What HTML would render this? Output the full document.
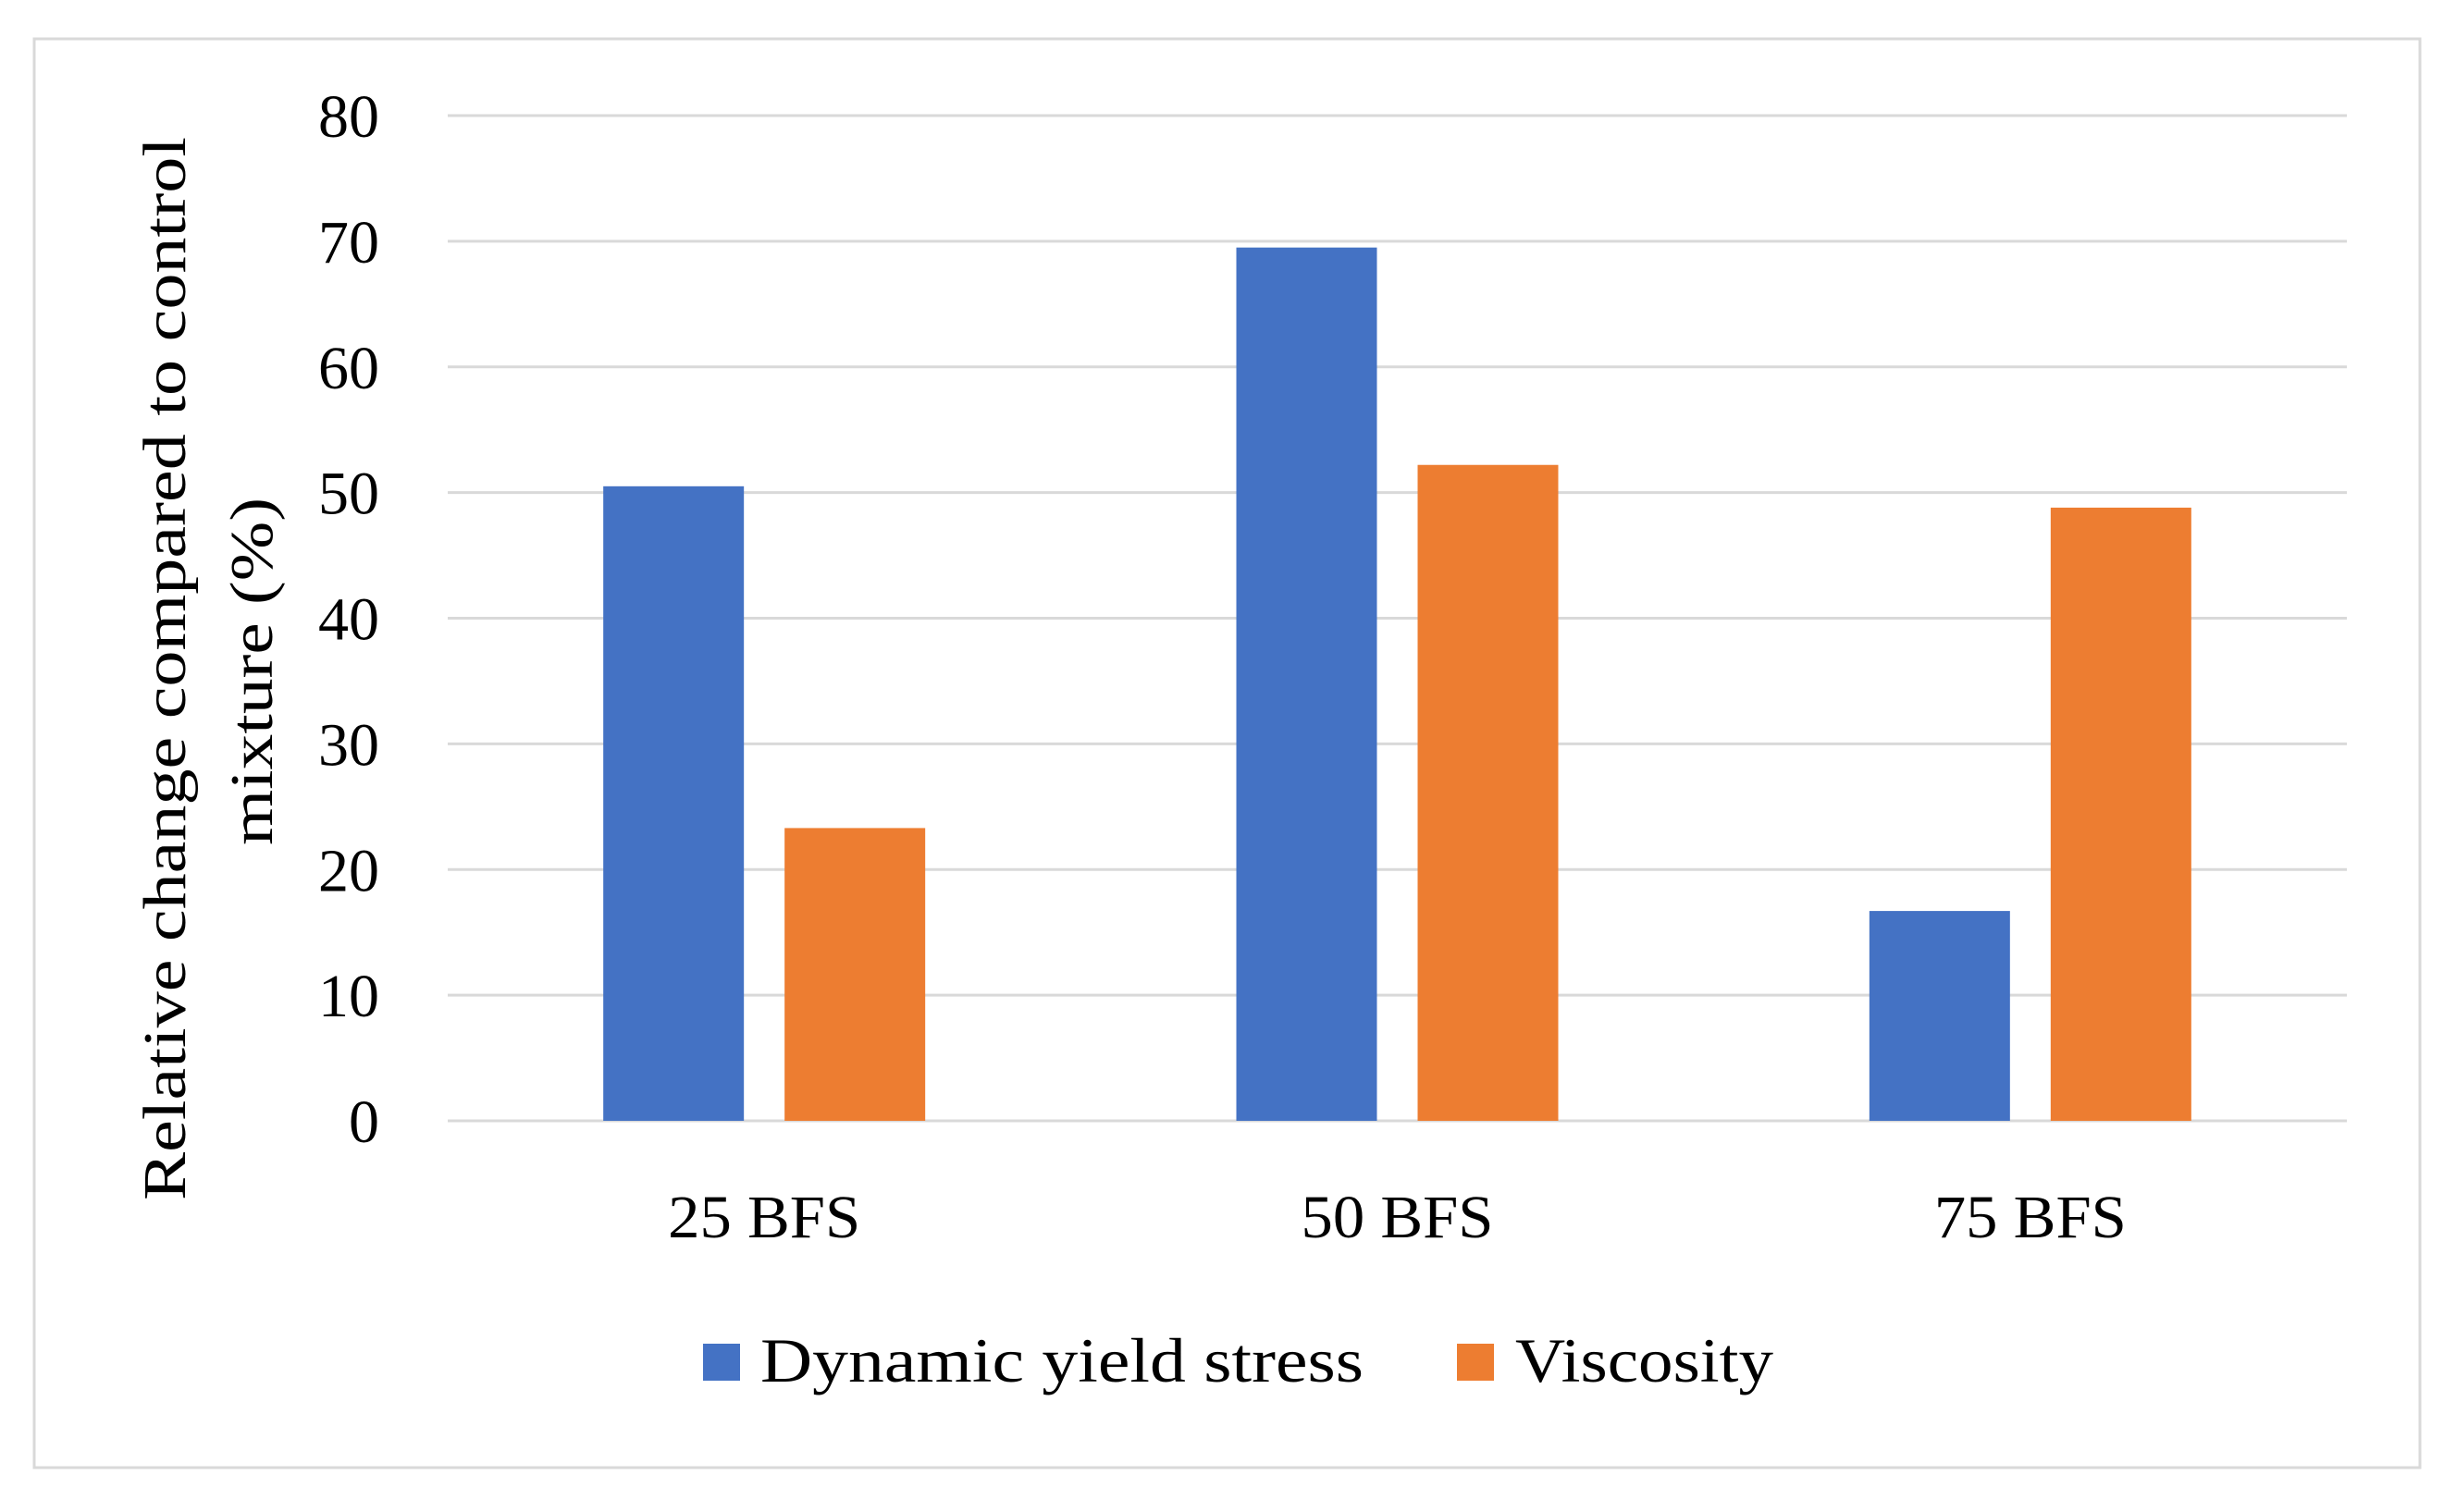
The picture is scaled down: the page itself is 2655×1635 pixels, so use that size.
<!DOCTYPE html>
<html><head><meta charset="utf-8"><style>
html,body{margin:0;padding:0;background:#fff;}
svg text{font-family:"Liberation Serif",serif;fill:#000;}
</style></head><body>
<svg id="chart" width="2655" height="1630" viewBox="0 0 2655 1630" xmlns="http://www.w3.org/2000/svg">
<rect x="37" y="42" width="2579" height="1545" fill="#fff" stroke="#d9d9d9" stroke-width="3"/>
<g id="grid"></g><g id="bars"></g><g id="ylabels"></g><g id="xlabels"></g>
<text transform="translate(200,723) rotate(-90)" text-anchor="middle" font-size="66" textLength="1150" lengthAdjust="spacingAndGlyphs">Relative change compared to control</text>
<text transform="translate(294,726) rotate(-90)" text-anchor="middle" font-size="66" textLength="376" lengthAdjust="spacingAndGlyphs">mixture (%)</text>
<g>
<rect x="760" y="1453" width="40" height="40" fill="#4472c4"/>
<text x="822" y="1494" font-size="68" textLength="652" lengthAdjust="spacingAndGlyphs">Dynamic yield stress</text>
<rect x="1575" y="1453" width="40" height="40" fill="#ed7d31"/>
<text x="1638" y="1494" font-size="68" textLength="279" lengthAdjust="spacingAndGlyphs">Viscosity</text>
</g>
</svg>
<script>
const categories=["25 BFS","50 BFS","75 BFS"];
const yieldStress=[50.5,69.5,16.7];
const viscosity=[23.3,52.2,48.8];
const yTicks=[0,10,20,30,40,50,60,70,80];
const ns="http://www.w3.org/2000/svg";
const L=484,R=2537,Y0=1212,Y80=125;
const y=v=>Y0-(v/80)*(Y0-Y80);
const cw=(R-L)/categories.length;
const xc=i=>L+cw*(i+0.5);
const bw=152,gap=44;
function mk(tag,attrs,parent){const e=document.createElementNS(ns,tag);for(const k in attrs)e.setAttribute(k,attrs[k]);document.getElementById(parent).appendChild(e);return e;}
yTicks.forEach(t=>{
 const l=mk('line',{x1:L,x2:R,y1:y(t),y2:y(t),stroke:'#d9d9d9','stroke-width':3},'grid');
 
 
 const tx=mk('text',{x:410,y:y(t)+23,'text-anchor':'end','font-size':66},'ylabels');
 tx.textContent=t;
 
 
});
categories.forEach((c,i)=>{
 const b1=mk('rect',{x:xc(i)-gap/2-bw,y:y(yieldStress[i]),width:bw,height:Y0-y(yieldStress[i]),fill:'#4472c4'},'bars');
 
 
 const b2=mk('rect',{x:xc(i)+gap/2,y:y(viscosity[i]),width:bw,height:Y0-y(viscosity[i]),fill:'#ed7d31'},'bars');
 
 
 const tx=mk('text',{x:xc(i),y:1338,'text-anchor':'middle','font-size':66,textLength:208,lengthAdjust:'spacingAndGlyphs'},'xlabels');
 tx.textContent=c;
 
 
});
</script>
</body></html>
